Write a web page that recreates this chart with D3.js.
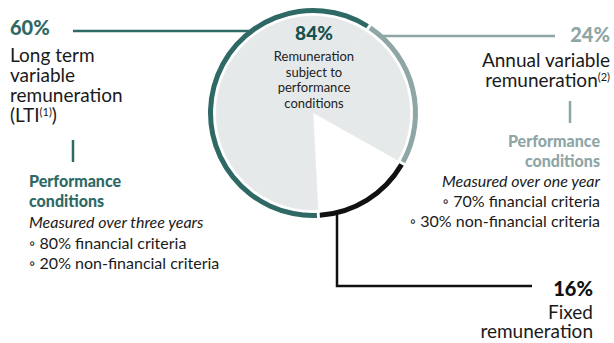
<!DOCTYPE html>
<html>
<head>
<meta charset="utf-8">
<script src="https://cdn.jsdelivr.net/npm/d3@7"></script>
<style>
  body { margin: 0; background: #fff; }
  svg text { font-family: Lato, "Noto Sans", sans-serif; }
</style>
</head>
<body>
<div id="chart"></div>
<script>
// ring segments, clockwise starting at the annual variable part
const segments = ['Annual variable', 'Fixed', 'Long term variable'];
const shares = [24, 16, 60];
const subjectToPerf = [true, false, true];
const segColors = ['#8fa6a6', '#111111', '#2f6966'];

const centerValue = '84%';
const centerLines = ['Remuneration', 'subject to', 'performance', 'conditions'];

const ltiLabel = ['Long term', 'variable', 'remuneration'];
const ltiConditions = ['Measured over three years', '\u25E6 80% financial criteria', '\u25E6 20% non-financial criteria'];
const aviLabel = ['Annual variable', 'remuneration'];
const aviConditions = ['Measured over one year', '\u25E6 70% financial criteria', '\u25E6 30% non-financial criteria'];
const fixedLabel = ['Fixed', 'remuneration'];

const width = 614;
const height = 343;
const cx = 313, cy = 113;
const rOuter = 105, rInner = 100, rFill = 97;
const startDeg = 33;

const svg = d3.select('#chart').append('svg')
  .attr('width', width)
  .attr('height', height);

const pie = d3.pie()
  .sort(null)
  .startAngle(startDeg * Math.PI / 180)
  .endAngle(startDeg * Math.PI / 180 + 2 * Math.PI);

const data = pie(shares);

const g = svg.append('g').attr('transform', `translate(${cx},${cy})`);

// inner fill: grey for the part subject to performance conditions
const fillArc = d3.arc().innerRadius(0).outerRadius(rFill);
g.selectAll('path.fill')
  .data(data)
  .enter().append('path')
  .attr('class', 'fill')
  .attr('d', fillArc)
  .attr('fill', (d, i) => subjectToPerf[i] ? '#e6e9ea' : '#ffffff')
  .attr('stroke', (d, i) => subjectToPerf[i] ? '#e6e9ea' : 'none')
  .attr('stroke-width', 0.5);

// outer ring
const ringArc = d3.arc().innerRadius(rInner).outerRadius(rOuter).padAngle(0.02);
g.selectAll('path.ring')
  .data(data)
  .enter().append('path')
  .attr('class', 'ring')
  .attr('d', ringArc)
  .attr('fill', (d, i) => segColors[i]);

// leader lines
const rMid = (rOuter + rInner) / 2;
function ringX(y, side) { return cx + side * Math.sqrt(rMid * rMid - (y - cy) * (y - cy)); }
function ringY(x) { return cy + Math.sqrt(rMid * rMid - (x - cx) * (x - cx)); }

svg.append('line')
  .attr('x1', 73).attr('x2', ringX(31, -1)).attr('y1', 31).attr('y2', 31)
  .attr('stroke', segColors[2]).attr('stroke-width', 2.5);
svg.append('line')
  .attr('x1', 73).attr('x2', 73).attr('y1', 140).attr('y2', 162)
  .attr('stroke', segColors[2]).attr('stroke-width', 2.5);

svg.append('line')
  .attr('x1', ringX(36, 1)).attr('x2', 555).attr('y1', 36).attr('y2', 36)
  .attr('stroke', segColors[0]).attr('stroke-width', 2.5);
svg.append('line')
  .attr('x1', 570).attr('x2', 570).attr('y1', 101).attr('y2', 123)
  .attr('stroke', segColors[0]).attr('stroke-width', 2.5);

svg.append('polyline')
  .attr('points', [[337, ringY(337)], [337, 286], [532, 286]].join(' '))
  .attr('fill', 'none')
  .attr('stroke', segColors[1]).attr('stroke-width', 2.5);

// center text
svg.append('text')
  .attr('x', 314).attr('y', 40)
  .attr('text-anchor', 'middle')
  .attr('font-size', 19).attr('font-weight', 900)
  .attr('fill', '#17514e')
  .text(centerValue);
svg.append('g').selectAll('text')
  .data(centerLines)
  .enter().append('text')
  .attr('x', 314)
  .attr('y', (d, i) => 61 + i * 15.7)
  .attr('text-anchor', 'middle')
  .attr('font-size', 13)
  .attr('fill', '#222')
  .text(d => d);

// left block: long term variable
svg.append('text')
  .attr('x', 10).attr('y', 35)
  .attr('font-size', 20).attr('font-weight', 900)
  .attr('fill', segColors[2])
  .text(shares[2] + '%');
svg.append('g').selectAll('text')
  .data(ltiLabel)
  .enter().append('text')
  .attr('x', 10)
  .attr('y', (d, i) => 62 + i * 20)
  .attr('font-size', 19)
  .attr('fill', '#1a1a1a')
  .text(d => d);
const lti = svg.append('text')
  .attr('x', 10).attr('y', 122)
  .attr('font-size', 19)
  .attr('fill', '#1a1a1a');
lti.append('tspan').text('(LTI');
lti.append('tspan').attr('font-size', 11).attr('dy', -6).text('(1)');
lti.append('tspan').attr('dy', 6).text(')');

svg.append('g').selectAll('text')
  .data(['Performance', 'conditions'])
  .enter().append('text')
  .attr('x', 29)
  .attr('y', (d, i) => 187 + i * 20)
  .attr('font-size', 16).attr('font-weight', 900)
  .attr('fill', segColors[2])
  .text(d => d);
svg.append('g').selectAll('text')
  .data(ltiConditions)
  .enter().append('text')
  .attr('x', 29)
  .attr('y', (d, i) => 228 + i * 20.5)
  .attr('font-size', 16)
  .attr('font-style', (d, i) => i === 0 ? 'italic' : 'normal')
  .attr('fill', '#1a1a1a')
  .text(d => d);

// right block: annual variable
svg.append('text')
  .attr('x', 610).attr('y', 42)
  .attr('text-anchor', 'end')
  .attr('font-size', 20).attr('font-weight', 900)
  .attr('fill', segColors[0])
  .text(shares[0] + '%');
svg.append('text')
  .attr('x', 610).attr('y', 67)
  .attr('text-anchor', 'end')
  .attr('font-size', 19)
  .attr('fill', '#1a1a1a')
  .text(aviLabel[0]);
const avi = svg.append('text')
  .attr('x', 610).attr('y', 87)
  .attr('text-anchor', 'end')
  .attr('font-size', 19)
  .attr('fill', '#1a1a1a');
avi.append('tspan').text(aviLabel[1]);
avi.append('tspan').attr('font-size', 11).attr('dy', -6).text('(2)');

svg.append('g').selectAll('text')
  .data(['Performance', 'conditions'])
  .enter().append('text')
  .attr('x', 600)
  .attr('y', (d, i) => 147 + i * 20)
  .attr('text-anchor', 'end')
  .attr('font-size', 16).attr('font-weight', 900)
  .attr('fill', segColors[0])
  .text(d => d);
svg.append('g').selectAll('text')
  .data(aviConditions)
  .enter().append('text')
  .attr('x', 600)
  .attr('y', (d, i) => 187 + i * 20)
  .attr('text-anchor', 'end')
  .attr('font-size', 16)
  .attr('font-style', (d, i) => i === 0 ? 'italic' : 'normal')
  .attr('fill', '#1a1a1a')
  .text(d => d);

// bottom block: fixed
svg.append('text')
  .attr('x', 593).attr('y', 296)
  .attr('text-anchor', 'end')
  .attr('font-size', 20).attr('font-weight', 900)
  .attr('fill', '#111')
  .text(shares[1] + '%');
svg.append('g').selectAll('text')
  .data(fixedLabel)
  .enter().append('text')
  .attr('x', 593)
  .attr('y', (d, i) => 319 + i * 19)
  .attr('text-anchor', 'end')
  .attr('font-size', 19)
  .attr('fill', '#1a1a1a')
  .text(d => d);
</script>
</body>
</html>
